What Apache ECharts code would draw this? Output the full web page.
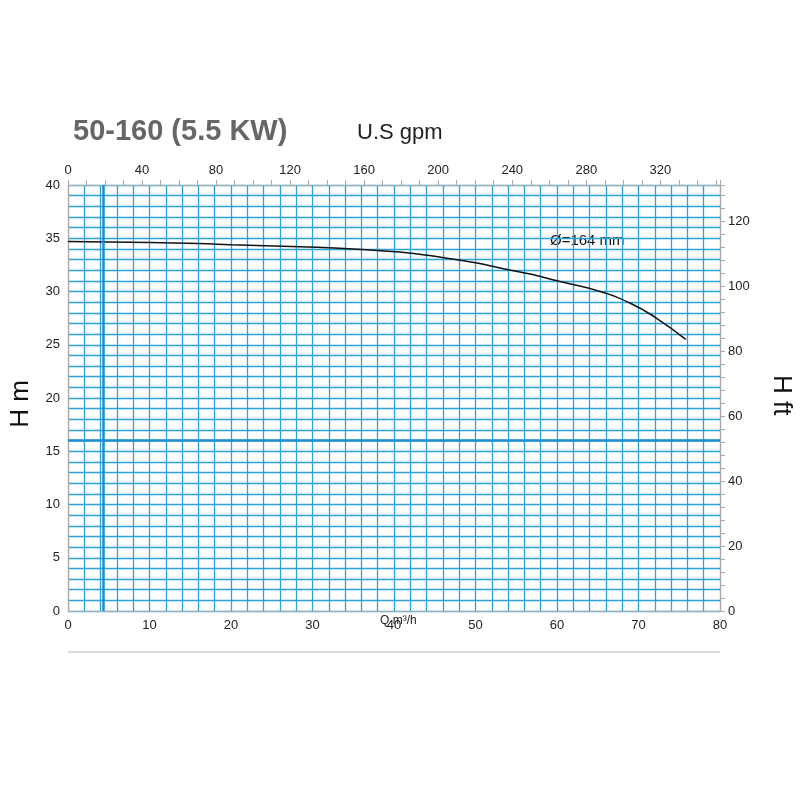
<!DOCTYPE html>
<html><head><meta charset="utf-8">
<script src="https://cdn.jsdelivr.net/npm/echarts@6/dist/echarts.min.js"></script>
<style>body{margin:0;background:#fff}#c{width:800px;height:800px}</style>
</head><body><div id="c"></div>
<script>
var flow = [0, 5, 10, 16, 20, 28.5, 35, 40.7, 45, 50, 53, 57, 60, 65.3, 69, 72, 75.8];
var head = [34.7, 34.65, 34.6, 34.5, 34.4, 34.2, 34.0, 33.7, 33.3, 32.7, 32.2, 31.6, 31.0, 30.0, 28.9, 27.6, 25.5];
var curveLabel = 'Ø=164 mm';
var GPM = 4.403, FT = 3.2808;

var chart = echarts.init(document.getElementById('c'));
var blue = '#2aa3dc';
chart.setOption({
    animation: false,
    grid: {left: 68, right: 80, top: 185, bottom: 189},
    title: [
        {text: '50-160 (5.5 KW)', left: 68, top: 112, textStyle: {color: '#666', fontSize: 29, fontWeight: 'bold', fontFamily: 'Liberation Sans'}},
        {text: 'U.S gpm', left: 352, top: 117, textStyle: {color: '#222', fontSize: 22, fontWeight: 'normal', fontFamily: 'Liberation Sans'}}
    ],
    graphic: [
        {type: 'text', left: 8, top: 380, rotation: Math.PI / 2, style: {text: 'H m', font: '26px Liberation Sans', fill: '#111'}},
        {type: 'text', right: 6, top: 375, rotation: -Math.PI / 2, style: {text: 'H ft', font: '26px Liberation Sans', fill: '#111'}},
        {type: 'text', left: 380, top: 615, style: {text: 'Q m³/h', font: '12px Liberation Sans', fill: '#222'}},
        {type: 'text', left: 550, top: 233, style: {text: curveLabel, font: '15px Liberation Sans', fill: '#111'}},
        {type: 'line', shape: {x1: 68, y1: 652, x2: 720, y2: 652}, style: {stroke: '#bbb', lineWidth: 1}}
    ],
    xAxis: [
        {type: 'value', min: 0, max: 80, interval: 2, position: 'bottom',
         axisLine: {onZero: false, lineStyle: {color: '#aaa'}}, axisTick: {show: false},
         axisLabel: {color: '#222', fontSize: 13, formatter: function (v) { return v % 10 === 0 ? v : ''; }},
         splitLine: {lineStyle: {color: blue, width: 1.3}}},
        {type: 'value', min: 0, max: 80 * GPM, interval: 10, position: 'top',
         axisLine: {onZero: false, lineStyle: {color: '#aaa'}}, axisTick: {show: true, lineStyle: {color: '#aaa'}},
         axisLabel: {color: '#222', fontSize: 13, formatter: function (v) { return v % 40 === 0 ? v : ''; }},
         splitLine: {show: false}}
    ],
    yAxis: [
        {type: 'value', min: 0, max: 40, interval: 1, position: 'left',
         axisLine: {show: true, onZero: false, lineStyle: {color: '#aaa'}}, axisTick: {show: false},
         axisLabel: {color: '#222', fontSize: 13, formatter: function (v) { return v % 5 === 0 ? v : ''; }},
         splitLine: {lineStyle: {color: blue, width: 1.3}}},
        {type: 'value', min: 0, max: 40 * FT, interval: 4, position: 'right',
         axisLine: {show: true, onZero: false, lineStyle: {color: '#aaa'}}, axisTick: {show: true, lineStyle: {color: '#aaa'}},
         axisLabel: {color: '#222', fontSize: 13, formatter: function (v) { return v % 20 === 0 ? v : ''; }},
         splitLine: {show: false}}
    ],
    series: [{
        type: 'line', smooth: true, symbol: 'none',
        data: flow.map(function (q, i) { return [q, head[i]]; }),
        lineStyle: {color: '#111', width: 1.5},
        markLine: {silent: true, symbol: 'none', label: {show: false},
            lineStyle: {color: '#1a8fd0', width: 2.5, type: 'solid'},
            data: [{xAxis: 4.3}, {yAxis: 16}]}
    }]
});
</script></body></html>
